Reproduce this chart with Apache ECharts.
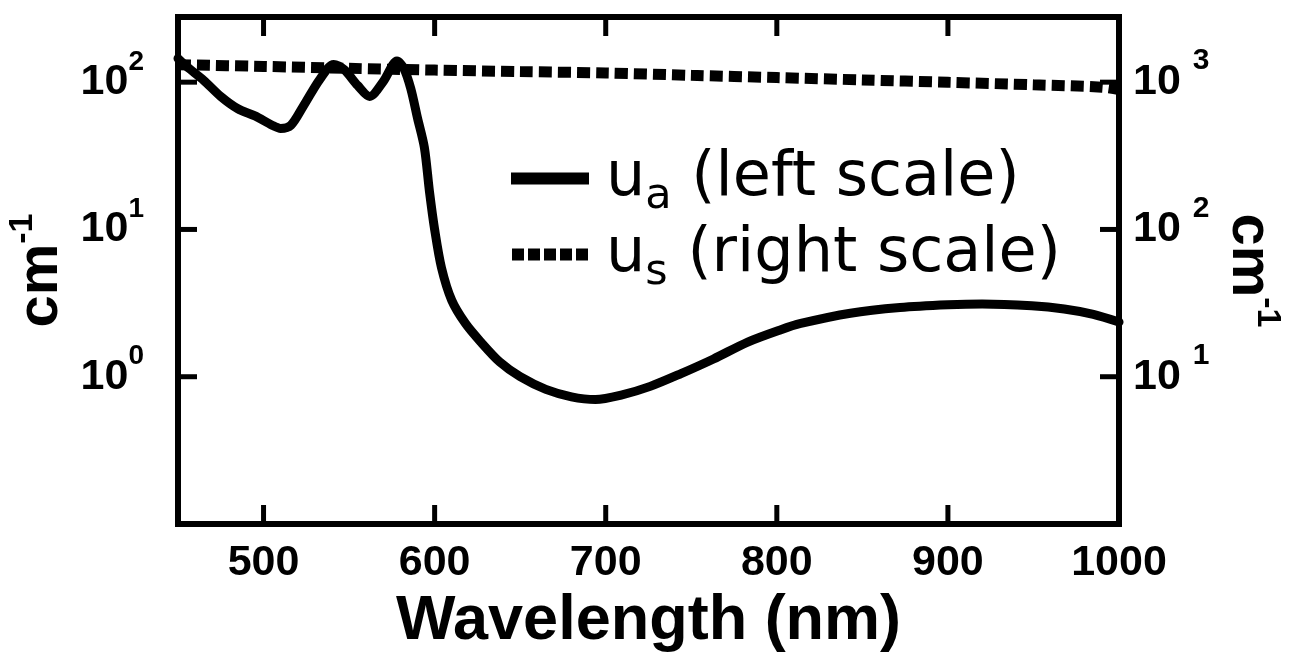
<!DOCTYPE html>
<html>
<head>
<meta charset="utf-8">
<script src="https://cdn.jsdelivr.net/npm/echarts@6/dist/echarts.min.js"></script>
<style>
  html, body { margin: 0; padding: 0; background: #fff; }
  #chart { width: 1296px; height: 653px; }
</style>
</head>
<body>
<div id="chart"></div>
<script>
// Absorption coefficient u_a (cm^-1), left log scale
const wavelengthsA = [450, 455, 465, 475, 485, 495, 505, 510, 516, 523, 533, 541, 547, 555, 562, 570, 578, 582, 586, 590, 594, 597, 600, 604, 610, 618, 627, 638, 650, 665, 680, 694, 709, 726, 744, 763, 783, 802, 814, 843, 872, 900, 920, 949, 968, 985, 1000];
const absorption = [145, 128, 103, 80, 66, 59, 51, 48.5, 51, 68, 105, 132, 122, 95, 80, 101, 139, 124, 91, 57, 36, 18, 10, 5.5, 3.3, 2.3, 1.72, 1.26, 1.0, 0.82, 0.73, 0.70, 0.75, 0.86, 1.05, 1.32, 1.72, 2.08, 2.3, 2.7, 2.95, 3.08, 3.12, 3.03, 2.88, 2.65, 2.35];

// Scattering coefficient u_s (cm^-1), right log scale
const wavelengthsS = [450, 500, 550, 600, 650, 700, 750, 800, 850, 900, 950, 990, 1000];
const scattering = [1313, 1280, 1241, 1208, 1180, 1155, 1113, 1074, 1036, 998, 960, 925, 890];

// Axis tick values
const xLabelTicks = [500, 600, 700, 800, 900, 1000];
const xTickMarks = [500, 600, 700, 800, 900];
const leftTicks = [1, 10, 100];
const rightTicks = [10, 100, 1000];

const X_MIN = 450, X_MAX = 1000;

const seriesA = wavelengthsA.map((w, i) => [w, absorption[i]]);
const seriesS = wavelengthsS.map((w, i) => [w, scattering[i]]);

const FONT = '"Liberation Sans", Arial, sans-serif';
const LEGEND_FONT = '"DejaVu Sans", sans-serif';
const TICK_LEN = 19;
const TICK_STYLE = { stroke: '#000', lineWidth: 5 };

// Legend keys: a solid bar and a row of square dashes
const SOLID_ICON = 'path://M0,0 H78 V12 H0 Z';
const DASH_ICON = 'path://M0,0 H12 V12 H0 Z M16,0 H28 V12 H16 Z M32,0 H44 V12 H32 Z M48,0 H60 V12 H48 Z M64,0 H76 V12 H64 Z';

// Labels shown only at the listed powers of ten, as 10 with a raised exponent
function powerLabel(allowed) {
  return function (v) {
    const e = Math.log10(v);
    const r = Math.round(e);
    if (Math.abs(e - r) > 1e-6) return '';
    if (allowed.indexOf(Math.pow(10, r)) < 0) return '';
    return '{n|10}{e|' + r + '}';
  };
}

function frameLine() {
  return { show: true, onZero: false, lineStyle: { color: '#000', width: 6, cap: 'square' } };
}
function nameRich() {
  return {
    c: { fontFamily: FONT, fontWeight: 'bold', fontSize: 58, lineHeight: 70, color: '#000' },
    s: { fontFamily: FONT, fontWeight: 'bold', fontSize: 34, lineHeight: 34, verticalAlign: 'top', color: '#000' }
  };
}

// Inward tick marks on the frame, placed through the axis scales
function xTickRenderer(params, api) {
  const cs = params.coordSys;
  const x = api.coord([api.value(0), 1])[0];
  const bottom = cs.y + cs.height;
  return {
    type: 'group',
    children: [
      { type: 'line', shape: { x1: x, y1: bottom, x2: x, y2: bottom - TICK_LEN }, style: TICK_STYLE },
      { type: 'line', shape: { x1: x, y1: cs.y, x2: x, y2: cs.y + TICK_LEN }, style: TICK_STYLE }
    ]
  };
}
function yTickRenderer(side) {
  return function (params, api) {
    const cs = params.coordSys;
    const y = api.coord([X_MIN, api.value(0)])[1];
    const edge = side === 'left' ? cs.x : cs.x + cs.width;
    const inner = side === 'left' ? edge + TICK_LEN : edge - TICK_LEN;
    return { type: 'line', shape: { x1: edge, y1: y, x2: inner, y2: y }, style: TICK_STYLE };
  };
}

const chart = echarts.init(document.getElementById('chart'));

chart.setOption({
  backgroundColor: '#ffffff',
  animation: false,
  grid: {
    left: 178, right: 177, top: 17, bottom: 129,
    outerBoundsMode: 'none', containLabel: false, show: false
  },
  legend: {
    orient: 'vertical',
    left: 506, top: 134,
    itemWidth: 78, itemHeight: 12, itemGap: -3,
    data: [
      { name: 'ua', icon: SOLID_ICON },
      { name: 'us', icon: DASH_ICON }
    ],
    formatter: function (name) {
      return name === 'ua'
        ? '{u|u}{sub|a}{t| (left scale)}'
        : '{u|u}{sub|s}{t| (right scale)}';
    },
    textStyle: {
      color: '#000',
      padding: [0, 0, 0, 12],
      rich: {
        u: { fontFamily: LEGEND_FONT, fontSize: 62, lineHeight: 60, color: '#000' },
        t: { fontFamily: LEGEND_FONT, fontSize: 62, lineHeight: 60, color: '#000' },
        sub: { fontFamily: LEGEND_FONT, fontSize: 43, lineHeight: 40, padding: [36, 0, 0, 0], color: '#000' }
      }
    }
  },
  xAxis: [
    {
      type: 'value', position: 'bottom', min: X_MIN, max: X_MAX,
      name: 'Wavelength (nm)', nameLocation: 'middle', nameGap: 52,
      nameTextStyle: { fontFamily: FONT, fontWeight: 'bold', fontSize: 63, color: '#000' },
      axisLine: frameLine(),
      splitLine: { show: false },
      axisTick: { show: false },
      axisLabel: {
        customValues: xLabelTicks, margin: 18,
        formatter: function (v) { return String(v); },
        fontFamily: FONT, fontWeight: 'bold', fontSize: 43, color: '#000'
      }
    },
    {
      type: 'value', position: 'top', min: X_MIN, max: X_MAX,
      axisLine: frameLine(),
      splitLine: { show: false },
      axisTick: { show: false },
      axisLabel: { show: false }
    }
  ],
  yAxis: [
    {
      type: 'log', logBase: 10, position: 'left', min: 0.1, max: 277,
      name: '{c|cm}{s|-1}', nameLocation: 'middle', nameGap: 88, nameRotate: 90,
      nameTextStyle: { color: '#000', rich: nameRich() },
      axisLine: frameLine(),
      splitLine: { show: false },
      minorTick: { show: false },
      axisTick: { show: false },
      axisLabel: {
        margin: 34,
        formatter: powerLabel(leftTicks),
        rich: {
          n: { fontFamily: FONT, fontWeight: 'bold', fontSize: 43, lineHeight: 68, color: '#000' },
          e: { fontFamily: FONT, fontWeight: 'bold', fontSize: 28, lineHeight: 28, verticalAlign: 'top', color: '#000' }
        }
      }
    },
    {
      type: 'log', logBase: 10, position: 'right', min: 1, max: 2770,
      name: '{c|cm}{s|-1}', nameLocation: 'middle', nameGap: 88, nameRotate: -90,
      nameTextStyle: { color: '#000', rich: nameRich() },
      axisLine: frameLine(),
      splitLine: { show: false },
      minorTick: { show: false },
      axisTick: { show: false },
      axisLabel: {
        margin: 14,
        formatter: powerLabel(rightTicks),
        rich: {
          n: { fontFamily: FONT, fontWeight: 'bold', fontSize: 43, lineHeight: 72, color: '#000' },
          e: { fontFamily: FONT, fontWeight: 'bold', fontSize: 30, lineHeight: 30, verticalAlign: 'top', padding: [0, 0, 0, 12], color: '#000' }
        }
      }
    }
  ],
  series: [
    {
      name: 'ua', type: 'line', xAxisIndex: 0, yAxisIndex: 0,
      data: seriesA, smooth: 0.3, symbol: 'none',
      lineStyle: { color: '#000', width: 9, cap: 'round', join: 'round' },
      itemStyle: { color: '#000' }
    },
    {
      name: 'us', type: 'line', xAxisIndex: 0, yAxisIndex: 1,
      data: seriesS, smooth: 0.3, symbol: 'none',
      lineStyle: { color: '#000', width: 11, type: [13, 6], cap: 'butt' },
      itemStyle: { color: '#000' }
    },
    {
      name: 'x ticks', type: 'custom', xAxisIndex: 0, yAxisIndex: 0, silent: true, z: 5,
      data: xTickMarks.map(v => [v]), renderItem: xTickRenderer
    },
    {
      name: 'left ticks', type: 'custom', xAxisIndex: 0, yAxisIndex: 0, silent: true, z: 5,
      data: leftTicks.map(v => [v]), renderItem: yTickRenderer('left')
    },
    {
      name: 'right ticks', type: 'custom', xAxisIndex: 0, yAxisIndex: 1, silent: true, z: 5,
      data: rightTicks.map(v => [v]), renderItem: yTickRenderer('right')
    }
  ]
});
</script>
</body>
</html>
